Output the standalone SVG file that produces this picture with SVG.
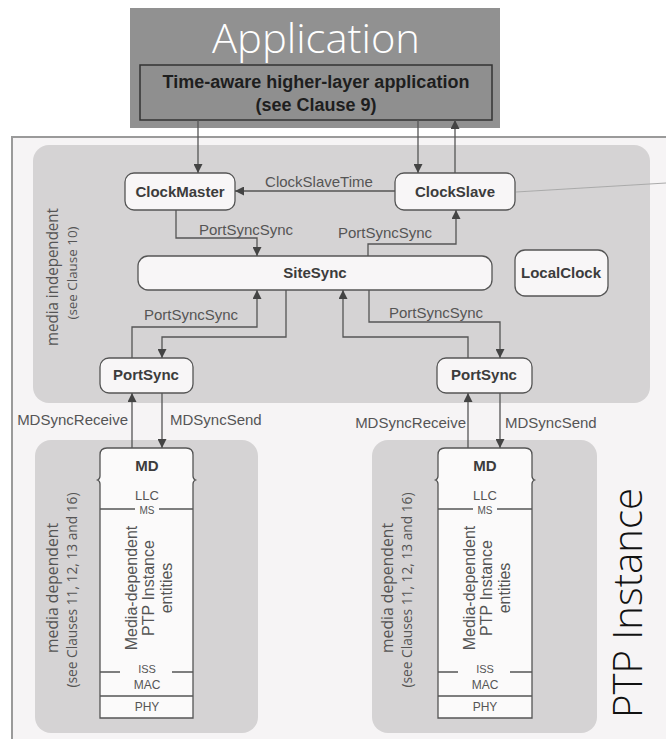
<svg xmlns="http://www.w3.org/2000/svg" width="666" height="739" viewBox="0 0 666 739">
  <defs>
    <marker id="arrow" viewBox="0 0 10 10" refX="10" refY="5" markerWidth="9" markerHeight="9" markerUnits="userSpaceOnUse" orient="auto">
      <path d="M0,0 L10,5 L0,10 Z" fill="#444"/>
    </marker>
    <style>
      .node rect { fill: #f8f6f7; stroke: #555; stroke-width: 1.3; }
      .nlabel { font-family: "Liberation Sans", Arial, sans-serif; font-weight: bold; font-size: 15px; fill: #3c3c3c; text-anchor: middle; }
      .elabel { font-family: "Liberation Sans", Arial, sans-serif; font-size: 15px; fill: #555; }
      .conn path { fill: none; stroke: #555; stroke-width: 1.3; marker-end: url(#arrow); }
      .region { fill: #d5d3d4; }
      .side { font-family: "Open Sans", "DejaVu Sans", sans-serif; fill: #555; text-anchor: middle; }
      .stack { fill: #fbfafa; stroke: #555; stroke-width: 1.3; }
      .small { font-family: "Liberation Sans", Arial, sans-serif; fill: #555; text-anchor: middle; }
      .big { font-family: "Open Sans", "Liberation Sans", sans-serif; font-weight: 300; text-anchor: middle; }
    </style>
  </defs>

  <rect width="666" height="739" fill="#ffffff"/>

  <!-- Application layer -->
  <g id="application">
    <rect x="130" y="8" width="370" height="120" fill="#919191"/>
    <text class="big" x="316" y="53" font-size="40" fill="#ffffff" textLength="208" lengthAdjust="spacingAndGlyphs">Application</text>
    <rect x="140" y="65" width="352" height="55" fill="#8f8f8f" stroke="#333" stroke-width="1.5"/>
    <text x="316" y="88" font-family="Liberation Sans, Arial, sans-serif" font-weight="bold" font-size="18" fill="#1e1e1e" text-anchor="middle">Time-aware higher-layer application</text>
    <text x="316" y="111" font-family="Liberation Sans, Arial, sans-serif" font-weight="bold" font-size="18" fill="#1e1e1e" text-anchor="middle">(see Clause 9)</text>
  </g>

  <!-- PTP Instance frame -->
  <g id="ptp-instance">
    <rect x="12" y="137" width="670" height="620" fill="#f6f4f5" stroke="#9a9a9a" stroke-width="2"/>
    <text class="big" transform="translate(642,603) rotate(-90)" font-size="40" fill="#111" textLength="230" lengthAdjust="spacingAndGlyphs">PTP Instance</text>
  </g>

  <!-- media independent region -->
  <g id="media-independent">
    <rect class="region" x="33" y="145" width="617" height="258" rx="16"/>
    <text class="side" transform="translate(58,277) rotate(-90)" font-size="16" textLength="138" lengthAdjust="spacingAndGlyphs">media independent</text>
    <text class="side" transform="translate(77,273) rotate(-90)" font-size="13.5" textLength="93" lengthAdjust="spacingAndGlyphs">(see Clause 10)</text>
  </g>

  <!-- media dependent regions -->
  <g id="media-dependent-left">
    <rect class="region" x="35" y="440" width="223" height="293" rx="16"/>
    <text class="side" transform="translate(58,588) rotate(-90)" font-size="16" textLength="130" lengthAdjust="spacingAndGlyphs">media dependent</text>
    <text class="side" transform="translate(77,590) rotate(-90)" font-size="14" textLength="195" lengthAdjust="spacingAndGlyphs">(see Clauses 11, 12, 13 and 16)</text>
  </g>
  <g id="media-dependent-right">
    <rect class="region" x="372" y="440" width="225" height="293" rx="16"/>
    <text class="side" transform="translate(393,588) rotate(-90)" font-size="16" textLength="130" lengthAdjust="spacingAndGlyphs">media dependent</text>
    <text class="side" transform="translate(412,590) rotate(-90)" font-size="14" textLength="195" lengthAdjust="spacingAndGlyphs">(see Clauses 11, 12, 13 and 16)</text>
  </g>

  <!-- state machine nodes -->
  <g id="clockmaster" class="node">
    <rect x="125" y="173" width="110" height="37" rx="9"/>
    <text class="nlabel" x="180" y="197">ClockMaster</text>
  </g>
  <g id="clockslave" class="node">
    <rect x="395" y="173" width="120" height="37" rx="9"/>
    <text class="nlabel" x="455" y="197">ClockSlave</text>
  </g>
  <g id="sitesync" class="node">
    <rect x="138" y="256" width="354" height="34" rx="10"/>
    <text class="nlabel" x="315" y="278">SiteSync</text>
  </g>
  <g id="localclock" class="node">
    <rect x="515" y="250" width="93" height="46" rx="10"/>
    <text class="nlabel" x="561" y="278">LocalClock</text>
  </g>
  <g id="portsync-left" class="node">
    <rect x="100" y="358" width="93" height="35" rx="9"/>
    <text class="nlabel" x="146" y="380">PortSync</text>
  </g>
  <g id="portsync-right" class="node">
    <rect x="437" y="358" width="95" height="35" rx="9"/>
    <text class="nlabel" x="484" y="380">PortSync</text>
  </g>

  <!-- MD stacks -->
  <g id="md-left">
    <path class="stack" d="M100,718 V484 Q100,481 97.5,480 Q100,479 100,476 V455 Q100,448 107,448 H186 Q193,448 193,455 V476 Q193,479 195.5,480 Q193,481 193,484 V718 Z"/>
    <path d="M100,509 H135 M159,509 H193 M100,672 H120 M172,672 H193 M100,696 H193" stroke="#555" stroke-width="1.3" fill="none"/>
    <text class="nlabel" x="147" y="471">MD</text>
    <text class="small" x="147" y="500" font-size="13">LLC</text>
    <text class="small" x="147" y="514" font-size="10">MS</text>
    <text class="small" transform="translate(137,588) rotate(-90)" font-size="16">Media-dependent</text>
    <text class="small" transform="translate(154,588) rotate(-90)" font-size="16">PTP Instance</text>
    <text class="small" transform="translate(172,588) rotate(-90)" font-size="16">entities</text>
    <text class="small" x="147" y="673" font-size="11">ISS</text>
    <text class="small" x="147" y="689" font-size="12">MAC</text>
    <text class="small" x="147" y="711" font-size="12">PHY</text>
  </g>
  <g id="md-right">
    <path class="stack" d="M438,718 V484 Q438,481 435.5,480 Q438,479 438,476 V455 Q438,448 445,448 H525 Q532,448 532,455 V476 Q532,479 534.5,480 Q532,481 532,484 V718 Z"/>
    <path d="M438,509 H473 M497,509 H532 M438,672 H458 M510,672 H532 M438,696 H532" stroke="#555" stroke-width="1.3" fill="none"/>
    <text class="nlabel" x="485" y="471">MD</text>
    <text class="small" x="485" y="500" font-size="13">LLC</text>
    <text class="small" x="485" y="514" font-size="10">MS</text>
    <text class="small" transform="translate(475,588) rotate(-90)" font-size="16">Media-dependent</text>
    <text class="small" transform="translate(492,588) rotate(-90)" font-size="16">PTP Instance</text>
    <text class="small" transform="translate(510,588) rotate(-90)" font-size="16">entities</text>
    <text class="small" x="485" y="673" font-size="11">ISS</text>
    <text class="small" x="485" y="689" font-size="12">MAC</text>
    <text class="small" x="485" y="711" font-size="12">PHY</text>
  </g>

  <!-- connectors -->
  <g id="connectors" class="conn">
    <path d="M198,120 V173"/>
    <path d="M418,120 V173"/>
    <path d="M455,173 V120"/>
    <path d="M395,191 H235"/>
    <path d="M176,210 V238 H257 V256"/>
    <path d="M368,256 V244 H456 V210"/>
    <path d="M132,358 V327 H257 V290"/>
    <path d="M286,290 V337 H162 V358"/>
    <path d="M369,290 V322 H500 V358"/>
    <path d="M468,358 V337 H343 V290"/>
    <path d="M132,448 V393"/>
    <path d="M162,393 V448"/>
    <path d="M468,448 V393"/>
    <path d="M500,393 V448"/>
    <line x1="516" y1="192" x2="666" y2="183" stroke="#aaa" stroke-width="1"/>
  </g>

  <!-- connector labels -->
  <g id="connector-labels">
    <text class="elabel" x="319" y="187" text-anchor="middle">ClockSlaveTime</text>
    <text class="elabel" x="246" y="235" text-anchor="middle">PortSyncSync</text>
    <text class="elabel" x="385" y="238" text-anchor="middle">PortSyncSync</text>
    <text class="elabel" x="191" y="320" text-anchor="middle">PortSyncSync</text>
    <text class="elabel" x="436" y="318" text-anchor="middle">PortSyncSync</text>
    <text class="elabel" x="128" y="425" text-anchor="end">MDSyncReceive</text>
    <text class="elabel" x="170" y="425">MDSyncSend</text>
    <text class="elabel" x="466" y="428" text-anchor="end">MDSyncReceive</text>
    <text class="elabel" x="505" y="428">MDSyncSend</text>
  </g>
</svg>
